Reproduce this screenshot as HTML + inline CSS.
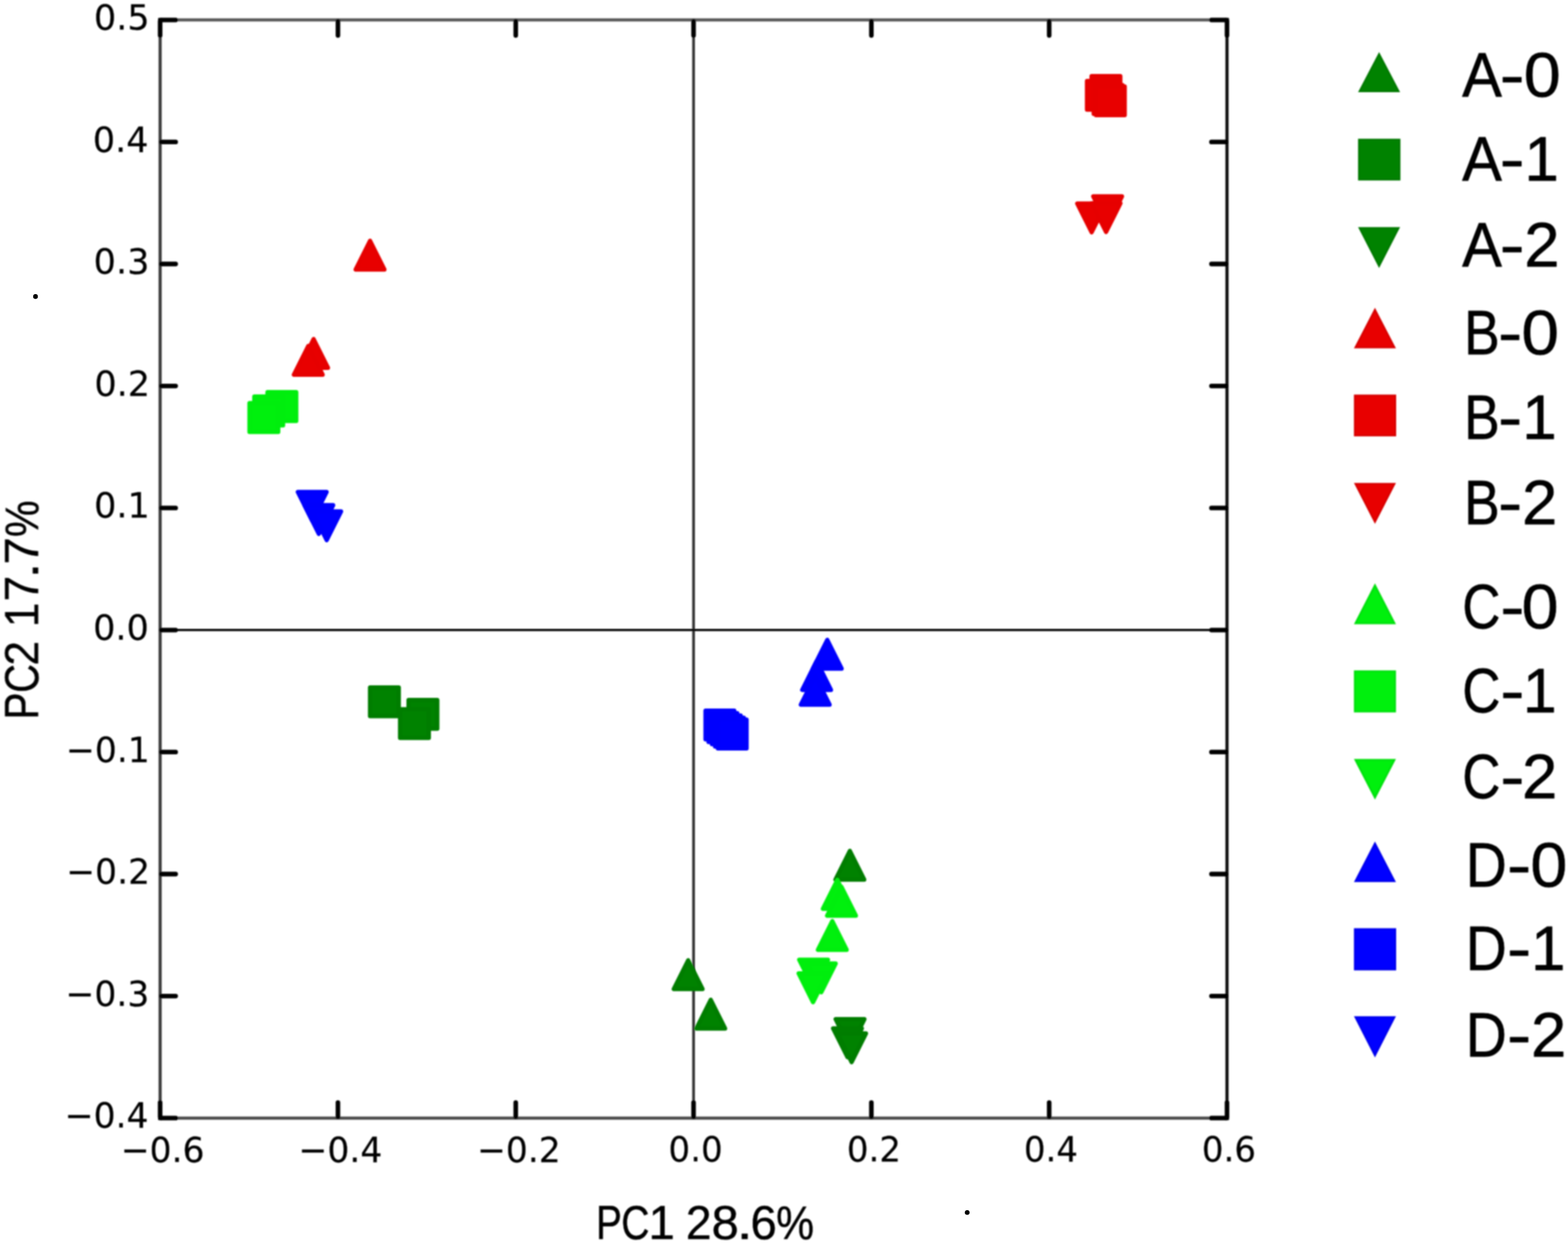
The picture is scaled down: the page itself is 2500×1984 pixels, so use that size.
<!DOCTYPE html>
<html lang="en">
<head>
<meta charset="utf-8">
<title>PCA score plot PC1 28.6% vs PC2 17.7%</title>
<style>
html,body{margin:0;padding:0;background:#fff;}
html,body{width:2500px;height:1984px;}
svg{display:block;}
.tick{font-family:"DejaVu Sans","Liberation Sans",sans-serif;font-size:54px;fill:#000;stroke:#000;stroke-width:0.25px;}
.leg{font-family:"Liberation Sans",sans-serif;fill:#000;stroke:#000;stroke-width:0.9px;stroke-linejoin:round;}
.axl{font-family:"Liberation Sans",sans-serif;fill:#000;stroke:#000;stroke-width:0.6px;stroke-linejoin:round;}
</style>
</head>
<body>
<svg width="2500" height="1984" viewBox="0 0 2500 1984">
<defs>
<filter id="soft" x="0" y="0" width="2500" height="1984" filterUnits="userSpaceOnUse"><feGaussianBlur stdDeviation="0.85"/></filter>
<filter id="soft3" x="0" y="0" width="2500" height="1984" filterUnits="userSpaceOnUse"><feGaussianBlur stdDeviation="1.25"/></filter>
<filter id="soft2" x="0" y="0" width="2500" height="1984" filterUnits="userSpaceOnUse"><feGaussianBlur stdDeviation="0.8"/></filter>
</defs>
<rect x="0" y="0" width="2500" height="1984" fill="#ffffff"/>
<g id="plot" filter="url(#soft)">

<g id="zero-lines">
<line x1="1105.8" y1="31.8" x2="1105.8" y2="1783.2" stroke="#363636" stroke-width="4.4"/>
<line x1="255.3" y1="1004.8" x2="1956.3" y2="1004.8" stroke="#000000" stroke-width="3.4"/>
</g>
<g id="frame" fill="none">
<line x1="255.3" y1="31.8" x2="1956.3" y2="31.8" stroke="#5a5a5a" stroke-width="5.0"/>
<line x1="255.3" y1="1783.2" x2="1956.3" y2="1783.2" stroke="#4c4c4c" stroke-width="5.0"/>
<line x1="255.3" y1="31.8" x2="255.3" y2="1783.2" stroke="#3c3c3c" stroke-width="5.0"/>
<line x1="1956.3" y1="31.8" x2="1956.3" y2="1783.2" stroke="#0a0a0a" stroke-width="5.0"/>
</g>
<g id="ticks" stroke="#000" stroke-width="7.3" stroke-linecap="round">
<line x1="255.3" y1="1781.2" x2="255.3" y2="1758.4"/>
<line x1="255.3" y1="33.8" x2="255.3" y2="56.6"/>
<line x1="538.8" y1="1781.2" x2="538.8" y2="1758.4"/>
<line x1="538.8" y1="33.8" x2="538.8" y2="56.6"/>
<line x1="822.3" y1="1781.2" x2="822.3" y2="1758.4"/>
<line x1="822.3" y1="33.8" x2="822.3" y2="56.6"/>
<line x1="1105.8" y1="1781.2" x2="1105.8" y2="1758.4"/>
<line x1="1105.8" y1="33.8" x2="1105.8" y2="56.6"/>
<line x1="1389.3" y1="1781.2" x2="1389.3" y2="1758.4"/>
<line x1="1389.3" y1="33.8" x2="1389.3" y2="56.6"/>
<line x1="1672.8" y1="1781.2" x2="1672.8" y2="1758.4"/>
<line x1="1672.8" y1="33.8" x2="1672.8" y2="56.6"/>
<line x1="1956.3" y1="1781.2" x2="1956.3" y2="1758.4"/>
<line x1="1956.3" y1="33.8" x2="1956.3" y2="56.6"/>
<line x1="257.3" y1="31.8" x2="280.1" y2="31.8"/>
<line x1="1954.3" y1="31.8" x2="1931.5" y2="31.8"/>
<line x1="257.3" y1="226.4" x2="280.1" y2="226.4"/>
<line x1="1954.3" y1="226.4" x2="1931.5" y2="226.4"/>
<line x1="257.3" y1="421.0" x2="280.1" y2="421.0"/>
<line x1="1954.3" y1="421.0" x2="1931.5" y2="421.0"/>
<line x1="257.3" y1="615.6" x2="280.1" y2="615.6"/>
<line x1="1954.3" y1="615.6" x2="1931.5" y2="615.6"/>
<line x1="257.3" y1="810.2" x2="280.1" y2="810.2"/>
<line x1="1954.3" y1="810.2" x2="1931.5" y2="810.2"/>
<line x1="257.3" y1="1004.8" x2="280.1" y2="1004.8"/>
<line x1="1954.3" y1="1004.8" x2="1931.5" y2="1004.8"/>
<line x1="257.3" y1="1199.4" x2="280.1" y2="1199.4"/>
<line x1="1954.3" y1="1199.4" x2="1931.5" y2="1199.4"/>
<line x1="257.3" y1="1394.0" x2="280.1" y2="1394.0"/>
<line x1="1954.3" y1="1394.0" x2="1931.5" y2="1394.0"/>
<line x1="257.3" y1="1588.6" x2="280.1" y2="1588.6"/>
<line x1="1954.3" y1="1588.6" x2="1931.5" y2="1588.6"/>
<line x1="257.3" y1="1783.2" x2="280.1" y2="1783.2"/>
<line x1="1954.3" y1="1783.2" x2="1931.5" y2="1783.2"/>
<rect x="252.05" y="28.55" width="6.50" height="6.50" rx="1.2" fill="#000" stroke="none"/>
<rect x="1953.05" y="28.55" width="6.50" height="6.50" rx="1.2" fill="#000" stroke="none"/>
<rect x="252.05" y="1779.95" width="6.50" height="6.50" rx="1.2" fill="#000" stroke="none"/>
<rect x="1953.05" y="1779.95" width="6.50" height="6.50" rx="1.2" fill="#000" stroke="none"/>
</g>
</g>
<g id="markers" filter="url(#soft3)">
<polygon points="1355.0,1357.2 1332.2,1402.8 1377.8,1402.8" fill="#008205" stroke="#007d05" stroke-width="7.0" stroke-linejoin="round"/>
<polygon points="1097.2,1531.7 1074.4,1577.3 1120.0,1577.3" fill="#008205" stroke="#007d05" stroke-width="7.0" stroke-linejoin="round"/>
<polygon points="1133.2,1594.7 1110.4,1640.3 1156.0,1640.3" fill="#008205" stroke="#007d05" stroke-width="7.0" stroke-linejoin="round"/>
<rect x="590.1" y="1096.5" width="45.6" height="45.6" fill="#008205" stroke="#007d05" stroke-width="7.0" stroke-linejoin="round"/>
<rect x="651.5" y="1116.4" width="45.6" height="45.6" fill="#008205" stroke="#007d05" stroke-width="7.0" stroke-linejoin="round"/>
<rect x="638.0" y="1131.2" width="45.6" height="45.6" fill="#008205" stroke="#007d05" stroke-width="7.0" stroke-linejoin="round"/>
<polygon points="1355.3,1671.1 1332.5,1625.5 1378.1,1625.5" fill="#008205" stroke="#007d05" stroke-width="7.0" stroke-linejoin="round"/>
<polygon points="1351.2,1685.8 1328.4,1640.2 1374.0,1640.2" fill="#008205" stroke="#007d05" stroke-width="7.0" stroke-linejoin="round"/>
<polygon points="1357.8,1693.8 1335.0,1648.2 1380.6,1648.2" fill="#008205" stroke="#007d05" stroke-width="7.0" stroke-linejoin="round"/>
<polygon points="590.0,384.2 567.2,429.8 612.8,429.8" fill="#e80005" stroke="#e60005" stroke-width="7.0" stroke-linejoin="round"/>
<polygon points="500.0,541.0 477.2,586.6 522.8,586.6" fill="#e80005" stroke="#e60005" stroke-width="7.0" stroke-linejoin="round"/>
<polygon points="491.5,552.0 468.7,597.6 514.3,597.6" fill="#e80005" stroke="#e60005" stroke-width="7.0" stroke-linejoin="round"/>
<rect x="1740.5" y="121.4" width="45.6" height="45.6" fill="#e80005" stroke="#e60005" stroke-width="7.0" stroke-linejoin="round"/>
<rect x="1733.2" y="129.2" width="45.6" height="45.6" fill="#e80005" stroke="#e60005" stroke-width="7.0" stroke-linejoin="round"/>
<rect x="1743.9" y="135.8" width="45.6" height="45.6" fill="#e80005" stroke="#e60005" stroke-width="7.0" stroke-linejoin="round"/>
<rect x="1747.5" y="138.0" width="45.6" height="45.6" fill="#e80005" stroke="#e60005" stroke-width="7.0" stroke-linejoin="round"/>
<polygon points="1766.0,358.8 1743.2,313.2 1788.8,313.2" fill="#e80005" stroke="#e60005" stroke-width="7.0" stroke-linejoin="round"/>
<polygon points="1740.5,370.3 1717.7,324.7 1763.3,324.7" fill="#e80005" stroke="#e60005" stroke-width="7.0" stroke-linejoin="round"/>
<polygon points="1763.5,369.8 1740.7,324.2 1786.3,324.2" fill="#e80005" stroke="#e60005" stroke-width="7.0" stroke-linejoin="round"/>
<polygon points="1335.0,1403.7 1312.2,1449.3 1357.8,1449.3" fill="#00f00c" stroke="#00ee0c" stroke-width="7.0" stroke-linejoin="round"/>
<polygon points="1341.7,1414.7 1318.9,1460.3 1364.5,1460.3" fill="#00f00c" stroke="#00ee0c" stroke-width="7.0" stroke-linejoin="round"/>
<polygon points="1327.0,1469.2 1304.2,1514.8 1349.8,1514.8" fill="#00f00c" stroke="#00ee0c" stroke-width="7.0" stroke-linejoin="round"/>
<rect x="426.6" y="625.6" width="45.6" height="45.6" fill="#00f00c" stroke="#00ee0c" stroke-width="7.0" stroke-linejoin="round"/>
<rect x="405.6" y="632.6" width="45.6" height="45.6" fill="#00f00c" stroke="#00ee0c" stroke-width="7.0" stroke-linejoin="round"/>
<rect x="397.9" y="643.1" width="45.6" height="45.6" fill="#00f00c" stroke="#00ee0c" stroke-width="7.0" stroke-linejoin="round"/>
<polygon points="1297.2,1576.3 1274.4,1530.7 1320.0,1530.7" fill="#00f00c" stroke="#00ee0c" stroke-width="7.0" stroke-linejoin="round"/>
<polygon points="1309.5,1582.3 1286.7,1536.7 1332.3,1536.7" fill="#00f00c" stroke="#00ee0c" stroke-width="7.0" stroke-linejoin="round"/>
<polygon points="1296.3,1598.1 1273.5,1552.5 1319.1,1552.5" fill="#00f00c" stroke="#00ee0c" stroke-width="7.0" stroke-linejoin="round"/>
<polygon points="1319.0,1020.7 1296.2,1066.3 1341.8,1066.3" fill="#0000ff" stroke="#0000fd" stroke-width="7.0" stroke-linejoin="round"/>
<polygon points="1302.0,1054.6 1279.2,1100.2 1324.8,1100.2" fill="#0000ff" stroke="#0000fd" stroke-width="7.0" stroke-linejoin="round"/>
<polygon points="1299.8,1078.2 1277.0,1123.8 1322.6,1123.8" fill="#0000ff" stroke="#0000fd" stroke-width="7.0" stroke-linejoin="round"/>
<rect x="1125.0" y="1133.4" width="45.6" height="45.6" fill="#0000ff" stroke="#0000fd" stroke-width="7.0" stroke-linejoin="round"/>
<rect x="1129.8" y="1137.6" width="45.6" height="45.6" fill="#0000ff" stroke="#0000fd" stroke-width="7.0" stroke-linejoin="round"/>
<rect x="1135.2" y="1141.2" width="45.6" height="45.6" fill="#0000ff" stroke="#0000fd" stroke-width="7.0" stroke-linejoin="round"/>
<rect x="1140.2" y="1144.8" width="45.6" height="45.6" fill="#0000ff" stroke="#0000fd" stroke-width="7.0" stroke-linejoin="round"/>
<rect x="1144.6" y="1147.8" width="45.6" height="45.6" fill="#0000ff" stroke="#0000fd" stroke-width="7.0" stroke-linejoin="round"/>
<polygon points="497.8,830.3 475.0,784.7 520.6,784.7" fill="#0000ff" stroke="#0000fd" stroke-width="7.0" stroke-linejoin="round"/>
<polygon points="508.3,851.3 485.5,805.7 531.1,805.7" fill="#0000ff" stroke="#0000fd" stroke-width="7.0" stroke-linejoin="round"/>
<polygon points="520.9,861.3 498.1,815.7 543.7,815.7" fill="#0000ff" stroke="#0000fd" stroke-width="7.0" stroke-linejoin="round"/>
</g>
<g id="tick-labels" filter="url(#soft)">
<g id="ytick-labels" class="tick" text-anchor="end">
<text transform="translate(238.6,47.0) scale(1.035,1.015)" x="0" y="0">0.5</text>
<text transform="translate(236.8,241.6) scale(1.035,1.015)" x="0" y="0">0.4</text>
<text transform="translate(238.2,436.2) scale(1.035,1.015)" x="0" y="0">0.3</text>
<text transform="translate(239.3,630.8) scale(1.035,1.015)" x="0" y="0">0.2</text>
<text transform="translate(238.8,825.4) scale(1.035,1.015)" x="0" y="0">0.1</text>
<text transform="translate(237.4,1020.0) scale(1.035,1.015)" x="0" y="0">0.0</text>
<text transform="translate(238.8,1214.6) scale(1.02,1.015)" x="0" y="0">−0.1</text>
<text transform="translate(239.2,1409.2) scale(1.02,1.015)" x="0" y="0">−0.2</text>
<text transform="translate(238.1,1603.8) scale(1.02,1.015)" x="0" y="0">−0.3</text>
<text transform="translate(236.8,1798.4) scale(1.02,1.015)" x="0" y="0">−0.4</text>
</g>
<g id="xtick-labels" class="tick" text-anchor="middle">
<text transform="translate(259.3,1852.5) scale(1.02,1.015)" x="0" y="0">−0.6</text>
<text transform="translate(542.6,1852.5) scale(1.02,1.015)" x="0" y="0">−0.4</text>
<text transform="translate(827.3,1852.5) scale(1.02,1.015)" x="0" y="0">−0.2</text>
<text transform="translate(1109.0,1852.5) scale(1.005,1.015)" x="0" y="0">0.0</text>
<text transform="translate(1393.4,1852.5) scale(1.005,1.015)" x="0" y="0">0.2</text>
<text transform="translate(1675.7,1852.5) scale(1.005,1.015)" x="0" y="0">0.4</text>
<text transform="translate(1959.4,1852.5) scale(1.005,1.015)" x="0" y="0">0.6</text>
</g>
</g>
<g id="axis-labels" class="axl" filter="url(#soft2)">
<text class="axl" font-size="75.6" y="1976.4"><tspan x="950.2" textLength="41.2" lengthAdjust="spacingAndGlyphs">P</tspan><tspan x="990.6" textLength="45.0" lengthAdjust="spacingAndGlyphs">C</tspan><tspan x="1034.0" textLength="41.9" lengthAdjust="spacingAndGlyphs">1</tspan><tspan x="1075.9" xml:space="preserve"> </tspan><tspan x="1093.5" textLength="41.1" lengthAdjust="spacingAndGlyphs">2</tspan><tspan x="1134.4" textLength="43.4" lengthAdjust="spacingAndGlyphs">8</tspan><tspan x="1174.3" textLength="26.3" lengthAdjust="spacingAndGlyphs">.</tspan><tspan x="1196.6" textLength="42.0" lengthAdjust="spacingAndGlyphs">6</tspan><tspan x="1237.5" textLength="60.4" lengthAdjust="spacingAndGlyphs">%</tspan></text>
<text class="axl" font-size="75.6" transform="translate(60.7,0) rotate(-90)" y="0"><tspan x="-1147.5" textLength="43.1" lengthAdjust="spacingAndGlyphs">P</tspan><tspan x="-1105.1" textLength="46.0" lengthAdjust="spacingAndGlyphs">C</tspan><tspan x="-1061.6" textLength="39.2" lengthAdjust="spacingAndGlyphs">2</tspan><tspan x="-1022.5" xml:space="preserve"> </tspan><tspan x="-1000.3" textLength="39.1" lengthAdjust="spacingAndGlyphs">1</tspan><tspan x="-958.9" textLength="40.7" lengthAdjust="spacingAndGlyphs">7</tspan><tspan x="-923.1" textLength="26.3" lengthAdjust="spacingAndGlyphs">.</tspan><tspan x="-900.2" textLength="43.5" lengthAdjust="spacingAndGlyphs">7</tspan><tspan x="-856.6" textLength="58.5" lengthAdjust="spacingAndGlyphs">%</tspan></text>
</g>
<circle cx="56.6" cy="472.9" r="3.8" fill="#000"/>
<circle cx="1542.1" cy="1933.7" r="3.8" fill="#000"/>
<g id="legend" filter="url(#soft2)">
<polygon points="2198.8,83.1 2165.3,147.0 2232.3,147.0" fill="#007804"/>
<polygon points="2198.8,89.6 2169.9,144.2 2227.7,144.2" fill="#008205"/>
<text class="leg" font-size="100.5" y="154.2"><tspan x="2331.2" textLength="63.4" lengthAdjust="spacingAndGlyphs">A</tspan><tspan x="2391.0" textLength="39.8" lengthAdjust="spacingAndGlyphs">-</tspan><tspan x="2429.4" textLength="58.9" lengthAdjust="spacingAndGlyphs">0</tspan></text>
<rect x="2165.3" y="221.3" width="67.5" height="66.5" fill="#007804"/>
<rect x="2168.1" y="224.1" width="61.9" height="60.9" fill="#008205"/>
<text class="leg" font-size="100.5" y="287.7"><tspan x="2331.2" textLength="63.4" lengthAdjust="spacingAndGlyphs">A</tspan><tspan x="2391.0" textLength="39.8" lengthAdjust="spacingAndGlyphs">-</tspan><tspan x="2430.5" textLength="55.0" lengthAdjust="spacingAndGlyphs">1</tspan></text>
<polygon points="2198.8,427.4 2165.3,362.3 2232.3,362.3" fill="#007804"/>
<polygon points="2198.8,420.9 2169.9,365.1 2227.7,365.1" fill="#008205"/>
<text class="leg" font-size="100.5" y="425.0"><tspan x="2331.2" textLength="63.4" lengthAdjust="spacingAndGlyphs">A</tspan><tspan x="2391.0" textLength="39.8" lengthAdjust="spacingAndGlyphs">-</tspan><tspan x="2430.3" textLength="56.3" lengthAdjust="spacingAndGlyphs">2</tspan></text>
<polygon points="2192.2,490.8 2158.7,555.6 2225.7,555.6" fill="#d70004"/>
<polygon points="2192.2,497.3 2163.3,552.8 2221.1,552.8" fill="#e80005"/>
<text class="leg" font-size="100.5" y="565.4"><tspan x="2334.2" textLength="56.8" lengthAdjust="spacingAndGlyphs">B</tspan><tspan x="2388.5" textLength="38.6" lengthAdjust="spacingAndGlyphs">-</tspan><tspan x="2425.8" textLength="59.9" lengthAdjust="spacingAndGlyphs">0</tspan></text>
<rect x="2158.7" y="629.3" width="67.3" height="66.6" fill="#d70004"/>
<rect x="2161.5" y="632.1" width="61.7" height="61.0" fill="#e80005"/>
<text class="leg" font-size="100.5" y="699.5"><tspan x="2334.2" textLength="56.8" lengthAdjust="spacingAndGlyphs">B</tspan><tspan x="2388.5" textLength="38.6" lengthAdjust="spacingAndGlyphs">-</tspan><tspan x="2426.9" textLength="55.0" lengthAdjust="spacingAndGlyphs">1</tspan></text>
<polygon points="2192.2,835.4 2158.7,770.2 2225.7,770.2" fill="#d70004"/>
<polygon points="2192.2,828.9 2163.3,773.0 2221.1,773.0" fill="#e80005"/>
<text class="leg" font-size="100.5" y="836.3"><tspan x="2334.2" textLength="56.8" lengthAdjust="spacingAndGlyphs">B</tspan><tspan x="2388.5" textLength="38.6" lengthAdjust="spacingAndGlyphs">-</tspan><tspan x="2426.7" textLength="56.3" lengthAdjust="spacingAndGlyphs">2</tspan></text>
<polygon points="2192.2,930.3 2158.7,995.5 2225.7,995.5" fill="#00df0b"/>
<polygon points="2192.2,936.8 2163.3,992.7 2221.1,992.7" fill="#00f00c"/>
<text class="leg" font-size="100.5" y="1001.7"><tspan x="2331.6" textLength="60.8" lengthAdjust="spacingAndGlyphs">C</tspan><tspan x="2392.0" textLength="38.6" lengthAdjust="spacingAndGlyphs">-</tspan><tspan x="2425.9" textLength="58.9" lengthAdjust="spacingAndGlyphs">0</tspan></text>
<rect x="2158.7" y="1069.2" width="67.0" height="67.0" fill="#00df0b"/>
<rect x="2161.5" y="1072.0" width="61.4" height="61.4" fill="#00f00c"/>
<text class="leg" font-size="100.5" y="1135.8"><tspan x="2331.6" textLength="60.8" lengthAdjust="spacingAndGlyphs">C</tspan><tspan x="2392.0" textLength="38.6" lengthAdjust="spacingAndGlyphs">-</tspan><tspan x="2428.0" textLength="53.9" lengthAdjust="spacingAndGlyphs">1</tspan></text>
<polygon points="2192.2,1275.2 2158.7,1210.4 2225.7,1210.4" fill="#00df0b"/>
<polygon points="2192.2,1268.7 2163.3,1213.2 2221.1,1213.2" fill="#00f00c"/>
<text class="leg" font-size="100.5" y="1272.6"><tspan x="2331.6" textLength="60.8" lengthAdjust="spacingAndGlyphs">C</tspan><tspan x="2392.0" textLength="38.6" lengthAdjust="spacingAndGlyphs">-</tspan><tspan x="2426.7" textLength="56.3" lengthAdjust="spacingAndGlyphs">2</tspan></text>
<polygon points="2192.2,1341.9 2158.7,1406.7 2225.7,1406.7" fill="#0000ed"/>
<polygon points="2192.2,1348.4 2163.3,1403.9 2221.1,1403.9" fill="#0000ff"/>
<text class="leg" font-size="100.5" y="1413.8"><tspan x="2336.7" textLength="65.7" lengthAdjust="spacingAndGlyphs">D</tspan><tspan x="2402.7" textLength="38.6" lengthAdjust="spacingAndGlyphs">-</tspan><tspan x="2440.1" textLength="58.9" lengthAdjust="spacingAndGlyphs">0</tspan></text>
<rect x="2158.7" y="1480.4" width="67.3" height="67.2" fill="#0000ed"/>
<rect x="2161.5" y="1483.2" width="61.7" height="61.6" fill="#0000ff"/>
<text class="leg" font-size="100.5" y="1547.0"><tspan x="2336.7" textLength="65.7" lengthAdjust="spacingAndGlyphs">D</tspan><tspan x="2402.7" textLength="38.6" lengthAdjust="spacingAndGlyphs">-</tspan><tspan x="2441.1" textLength="55.0" lengthAdjust="spacingAndGlyphs">1</tspan></text>
<polygon points="2192.2,1686.5 2158.7,1620.7 2225.7,1620.7" fill="#0000ed"/>
<polygon points="2192.2,1680.0 2163.3,1623.5 2221.1,1623.5" fill="#0000ff"/>
<text class="leg" font-size="100.5" y="1684.7"><tspan x="2336.7" textLength="65.7" lengthAdjust="spacingAndGlyphs">D</tspan><tspan x="2402.7" textLength="38.6" lengthAdjust="spacingAndGlyphs">-</tspan><tspan x="2440.9" textLength="56.3" lengthAdjust="spacingAndGlyphs">2</tspan></text>
</g>
</svg>
</body>
</html>
